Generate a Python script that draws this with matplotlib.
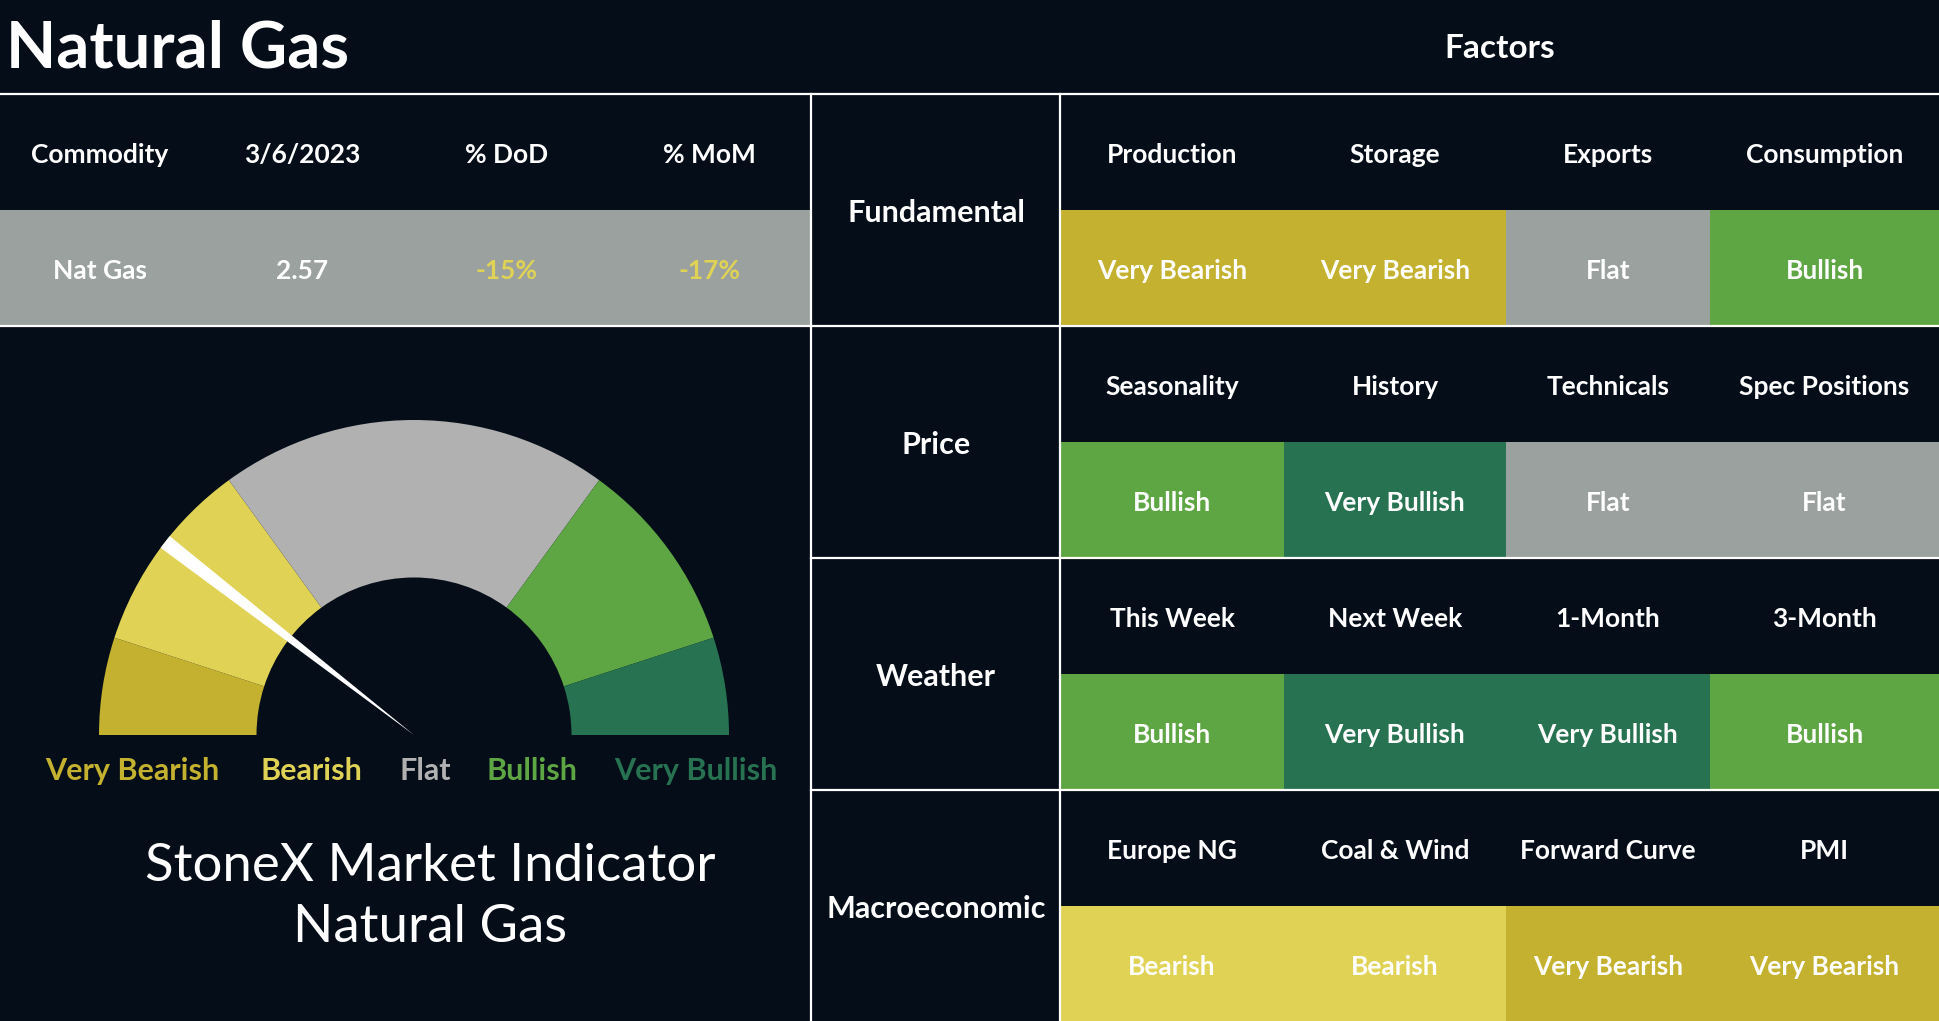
import matplotlib
matplotlib.use("Agg")
import matplotlib.pyplot as plt
from matplotlib.patches import Rectangle

# ---------------- data ----------------
title = "Natural Gas"
factors_title = "Factors"
summary_headers = ["Commodity", "3/6/2023", "% DoD", "% MoM"]
summary_values = ["Nat Gas", "2.57", "-15%", "-17%"]
summary_value_signals = [None, None, "Bearish", "Bearish"]

categories = ["Fundamental", "Price", "Weather", "Macroeconomic"]
factor_names = [
    ["Production", "Storage", "Exports", "Consumption"],
    ["Seasonality", "History", "Technicals", "Spec Positions"],
    ["This Week", "Next Week", "1-Month", "3-Month"],
    ["Europe NG", "Coal & Wind", "Forward Curve", "PMI"],
]
factor_signals = [
    ["Very Bearish", "Very Bearish", "Flat", "Bullish"],
    ["Bullish", "Very Bullish", "Flat", "Flat"],
    ["Bullish", "Very Bullish", "Very Bullish", "Bullish"],
    ["Bearish", "Bearish", "Very Bearish", "Very Bearish"],
]

gauge_labels = ["Very Bearish", "Bearish", "Flat", "Bullish", "Very Bullish"]
gauge_sizes = [1, 2, 4, 2, 1]
needle_value = 2.1          # on the 0..10 gauge scale
needle_width = 0.15
subtitle = "StoneX Market Indicator\nNatural Gas"

# ---------------- styles ----------------
BG = "#050D18"
signal_colors = {
    "Very Bearish": "#C4B12F",
    "Bearish": "#E0D255",
    "Flat": "#9AA19F",
    "Bullish": "#5EA544",
    "Very Bullish": "#277351",
}
gauge_colors = ["#C4B12F", "#E0D255", "#B1B1B1", "#5EA544", "#277351"]
FONT = ["Lato", "DejaVu Sans"]

W, H = 1939, 1021
fig = plt.figure(figsize=(W / 100, H / 100), dpi=100, facecolor=BG)
ax = fig.add_axes([0, 0, 1, 1])
ax.set_facecolor(BG)
ax.set_xlim(0, W)
ax.set_ylim(0, H)
ax.axis("off")

DY = 3  # small vertical nudge for text


def Y(y):
    return H - y


def txt(x, y, s, size, color="white", weight="bold", **kw):
    ax.text(x, Y(y + DY), s, fontsize=size, color=color, fontweight=weight,
            family=FONT, ha="center", va="center", **kw)


# title
txt(178, 46, title, 47)
txt(1500, 46, factors_title, 24)

# summary table
sum_edges = [0, 200, 405, 608, 811]
top_hdr, row_h = 94, 232
sub_h = row_h / 2
ax.add_patch(Rectangle((0, Y(top_hdr + row_h)), 811, sub_h,
                       facecolor=signal_colors["Flat"], edgecolor="none"))
for i, (h, v, s) in enumerate(zip(summary_headers, summary_values, summary_value_signals)):
    cx = (sum_edges[i] + sum_edges[i + 1]) / 2
    txt(cx, top_hdr + sub_h / 2, h, 19)
    txt(cx, top_hdr + sub_h * 1.5, v, 19,
        color=signal_colors[s] if s else "white")

# factor grid
col_edges = [1060, 1284, 1506, 1710, W]
for r, cat in enumerate(categories):
    top = top_hdr + r * row_h
    txt(936, top + row_h / 2, cat, 22)
    for c in range(4):
        x0, x1 = col_edges[c], col_edges[c + 1]
        cx = (x0 + x1) / 2
        sig = factor_signals[r][c]
        ax.add_patch(Rectangle((x0, Y(top + row_h)), x1 - x0, sub_h,
                               facecolor=signal_colors[sig], edgecolor="none"))
        txt(cx, top + sub_h / 2, factor_names[r][c], 19)
        txt(cx, top + sub_h * 1.5, sig, 19)

# lines
lw = 1.6
ax.plot([0, W], [Y(94), Y(94)], color="white", lw=lw)
ax.plot([0, W], [Y(326), Y(326)], color="white", lw=lw)
for yy in (558, 790):
    ax.plot([811, W], [Y(yy), Y(yy)], color="white", lw=lw)
for xx in (811, 1060):
    ax.plot([xx, xx], [Y(94), 0], color="white", lw=lw)

# gauge
cx, cy, R = 414, 735, 315
total = sum(gauge_sizes)
ax.pie(gauge_sizes + [total], colors=gauge_colors + ["none"], startangle=180,
       counterclock=False, radius=R, center=(cx, Y(cy)), frame=True,
       wedgeprops=dict(width=R * 0.5, linewidth=0))
ax.pie([needle_value - needle_width / 2, needle_width,
        2 * total - needle_value - needle_width / 2],
       colors=["none", "white", "none"], startangle=180, counterclock=False,
       radius=R, center=(cx, Y(cy)), frame=True, wedgeprops=dict(linewidth=0))
ax.set_xlim(0, W)
ax.set_ylim(0, H)
ax.set_aspect("auto")
ax.axis("off")

label_x = [132, 311, 425, 532, 696]
for lab, lx, col in zip(gauge_labels, label_x, gauge_colors):
    txt(lx, 768, lab, 22, color=col)

ax.text(430, Y(897), subtitle, fontsize=38, color="white", fontweight="normal",
        family=FONT, ha="center", va="center", linespacing=1.38)

fig.savefig("out.png", dpi=100, facecolor=BG)
